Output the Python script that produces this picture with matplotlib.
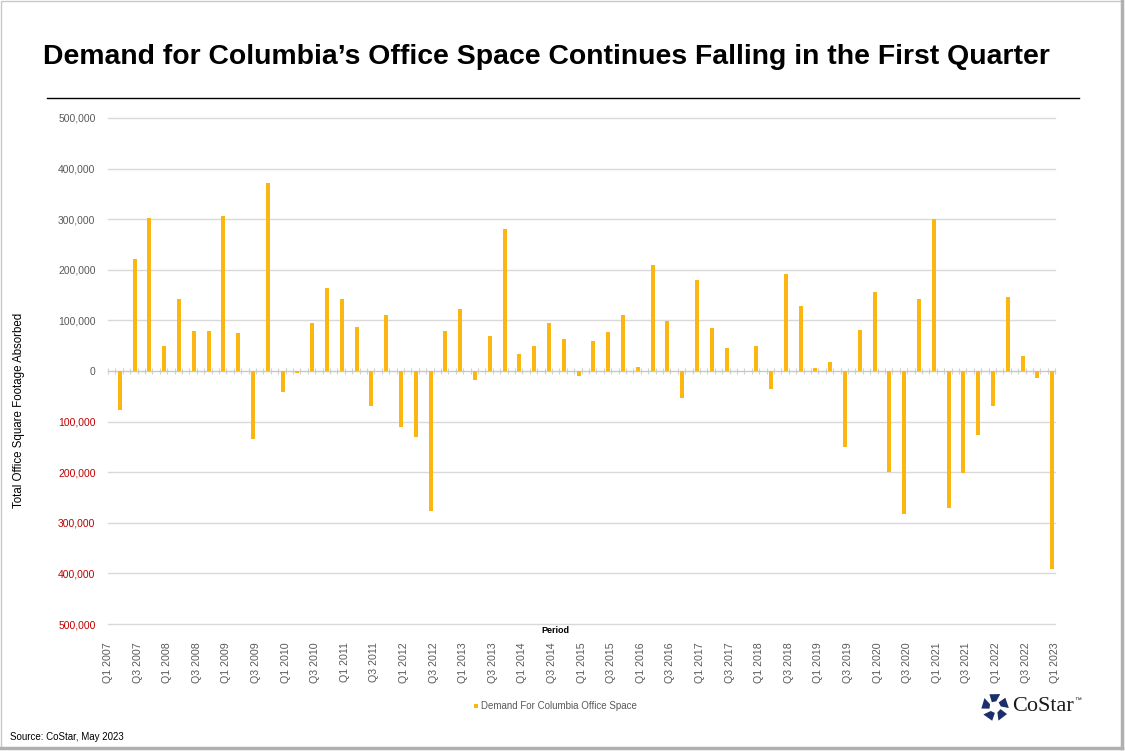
import numpy as np
import matplotlib.pyplot as plt
from matplotlib.patches import Polygon, Rectangle
from matplotlib.lines import Line2D

plt.rcParams['font.family'] = ['Liberation Sans', 'DejaVu Sans']

# tick labels every second quarter, Q1 2007 .. Q1 2023
tick_labels = [f"Q{q} {y}" for y in range(2007, 2024) for q in (1, 3)][:33]

# net absorption per quarter (sq ft), Q2 2007 .. Q1 2023
demand = [-78000, 222000, 303000, 50000, 142000, 80000, 80000, 307000, 76000, -135000,
          372000, -41000, -3000, 94000, 165000, 142000, 86000, -69000, 110000, -110000,
          -131000, -277000, 80000, 123000, -18000, 70000, 281000, 33000, 50000, 94000,
          64000, -10000, 60000, 78000, 110000, 7000, 210000, 99000, -54000, 180000,
          84000, 46000, 0, 50000, -36000, 191000, 129000, 5000, 18000, -150000,
          82000, 157000, -200000, -283000, 143000, 300000, -270000, -202000, -127000, -69000,
          147000, 29000, -14000, -392000]

y_ticks = list(range(-500000, 500001, 100000))

bar_color = '#FBB612'
grey_txt = '#595959'
red_txt = '#C00000'

fig = plt.figure(figsize=(11.25, 7.51), dpi=100)

# frame round the slide
fig.patches.append(Rectangle((0.001, 0.004), 0.996, 0.995, transform=fig.transFigure,
                             fill=False, edgecolor='#C8C8C8', lw=1))
fig.add_artist(Line2D([0.997, 0.997], [0.004, 0.999], transform=fig.transFigure, color='#B0B0B0', lw=2.5))
fig.add_artist(Line2D([0.001, 0.997], [0.004, 0.004], transform=fig.transFigure, color='#B0B0B0', lw=2.5))

# title and rule
fig.text(0.4853, 0.924, "Demand for Columbia’s Office Space Continues Falling in the First Quarter",
         ha='center', va='center', fontsize=20.4, fontweight='bold', color='black')
fig.add_artist(Line2D([0.042, 0.959], [0.8695, 0.8695], transform=fig.transFigure, color='black', lw=1))

ax = fig.add_axes([0.096, 0.1691, 0.842, 0.6738])
x = np.arange(len(demand)) + 0.8
ax.bar(x, demand, width=0.27, color=bar_color, zorder=3)

ax.set_xlim(0, 64)
ax.set_ylim(-500000, 500000)
ax.set_yticks(y_ticks)
ax.set_yticklabels([f"{abs(v):,}" for v in y_ticks])
for lab, v in zip(ax.get_yticklabels(), y_ticks):
    lab.set_color(red_txt if v < 0 else grey_txt)
ax.tick_params(axis='y', length=0, pad=9, labelsize=7.5)
ax.yaxis.grid(True, color='#D9D9D9', lw=1, clip_on=False)
ax.set_axisbelow(True)

for s in ['top', 'right', 'left']:
    ax.spines[s].set_visible(False)
ax.spines['bottom'].set_position(('data', 0))
ax.spines['bottom'].set_color('#C8C8C8')
ax.spines['bottom'].set_zorder(2)
ax.set_xticks(np.arange(0, 64.01, 0.5))
ax.tick_params(axis='x', direction='inout', length=4, color='#D0D0D0', labelbottom=False)

sec = ax.secondary_xaxis('bottom')
sec.set_xticks(range(0, 65, 2))
sec.set_xticklabels(tick_labels, rotation=90, va='top')
sec.tick_params(length=0, pad=13, colors=grey_txt, labelsize=7.7)
sec.spines['bottom'].set_visible(False)

fig.text(0.0169, 0.454, "Total Office Square Footage Absorbed", rotation=90,
         ha='center', va='center', fontsize=8.3, color='black')
fig.text(0.494, 0.160, "Period", ha='center', va='center', fontsize=6.5,
         fontweight='bold', color='black')

# legend
fig.patches.append(Rectangle((0.4215, 0.0575), 0.0035, 0.0055, transform=fig.transFigure,
                             facecolor=bar_color, edgecolor='none'))
fig.text(0.4275, 0.060, "Demand For Columbia Office Space", ha='left', va='center',
         fontsize=7, color=grey_txt)

fig.text(0.0089, 0.0186, "Source: CoStar, May 2023", ha='left', va='center',
         fontsize=7, color='black')

# CoStar logo
lax = fig.add_axes([0.871, 0.038, 0.027, 0.041])
lax.set_xlim(-1.1, 1.1)
lax.set_ylim(-1.1, 1.1)
lax.axis('off')
for k in range(5):
    a = np.deg2rad(90 + 72 * k)
    pts = []
    for ang, r in [(-22, 1.0), (24, 1.0), (34, 0.42), (-12, 0.42)]:
        t = a + np.deg2rad(ang)
        pts.append((r * np.cos(t), r * np.sin(t)))
    lax.add_patch(Polygon(pts, closed=True, facecolor='#1B2F6B', edgecolor='none'))
fig.text(0.900, 0.059, "CoStar", ha='left', va='center', fontsize=16,
         family=['Liberation Serif', 'DejaVu Serif'], color='#1A1A1A')
fig.text(0.955, 0.067, "™", ha='left', va='center', fontsize=5, color='#1A1A1A')

fig.savefig('out.png', dpi=100)
